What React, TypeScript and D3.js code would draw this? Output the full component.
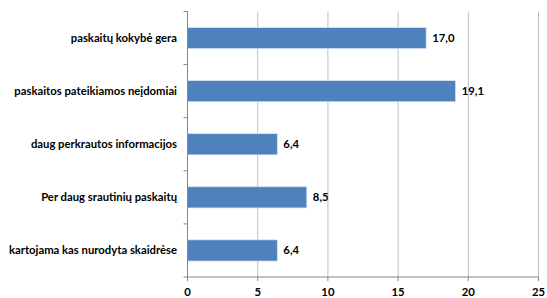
import React from "react";
import * as d3 from "d3";

const categories = [
  "paskaitų kokybė gera",
  "paskaitos pateikiamos neįdomiai",
  "daug perkrautos informacijos",
  "Per daug srautinių paskaitų",
  "kartojama kas nurodyta skaidrėse",
];
const values = [17.0, 19.1, 6.4, 8.5, 6.4];
const xTicks = [0, 5, 10, 15, 20, 25];

const W = 547;
const H = 298;
const margin = { left: 187.5, right: 8.5, top: 11.5, bottom: 21 };
const FONT = "Lato, 'Open Sans', sans-serif";
const FS = 11.3;

export default function App() {
  const x = d3.scaleLinear().domain([0, 25]).range([margin.left, W - margin.right]);
  const y = d3
    .scaleBand<string>()
    .domain(categories)
    .range([margin.top, H - margin.bottom])
    .paddingInner(0.6)
    .paddingOuter(0.3);
  const plotTop = margin.top;
  const plotBottom = H - margin.bottom;
  const fmt = (v: number) => v.toFixed(1).replace(".", ",");
  const boundaries = d3
    .range(categories.length + 1)
    .map((i) => plotTop + i * ((plotBottom - plotTop) / categories.length));

  return (
    <svg width={W} height={H} style={{ position: "absolute", left: 0, top: 0, background: "#fff" }}>
      {xTicks.filter((t) => t > 0).map((t) => (
        <line key={"g" + t} x1={x(t)} x2={x(t)} y1={plotTop} y2={plotBottom} stroke="#BFBFBF" strokeWidth={1} />
      ))}
      {categories.map((c, i) => (
        <rect
          key={c}
          x={x(0)}
          y={y(c)!}
          width={x(values[i]) - x(0)}
          height={y.bandwidth()}
          fill="#4F81BD"
          stroke="#DCE6F2"
          strokeWidth={0.8}
        />
      ))}
      <line x1={x(0)} x2={x(0)} y1={plotTop} y2={plotBottom} stroke="#868686" strokeWidth={1} />
      {boundaries.map((b, i) => (
        <line key={"lt" + i} x1={x(0) - 4} x2={x(0)} y1={b} y2={b} stroke="#868686" strokeWidth={1} />
      ))}
      <line x1={x(0)} x2={x(25)} y1={plotBottom} y2={plotBottom} stroke="#868686" strokeWidth={1} />
      {xTicks.map((t) => (
        <g key={"t" + t}>
          <line x1={x(t)} x2={x(t)} y1={plotBottom} y2={plotBottom + 4} stroke="#868686" strokeWidth={1} />
          <text x={x(t)} y={plotBottom + 19} textAnchor="middle" fontFamily={FONT} fontWeight="bold" fontSize={FS} fill="#000">
            {t}
          </text>
        </g>
      ))}
      {categories.map((c) => (
        <text
          key={"c" + c}
          x={177}
          y={y(c)! + y.bandwidth() / 2}
          dy="0.35em"
          textAnchor="end"
          fontFamily={FONT}
          fontWeight="bold"
          fontSize={FS}
          fill="#000"
        >
          {c}
        </text>
      ))}
      {categories.map((c, i) => (
        <text
          key={"v" + c}
          x={x(values[i]) + 6}
          y={y(c)! + y.bandwidth() / 2}
          dy="0.35em"
          fontFamily={FONT}
          fontWeight="bold"
          fontSize={FS}
          fill="#000"
        >
          {fmt(values[i])}
        </text>
      ))}
    </svg>
  );
}
